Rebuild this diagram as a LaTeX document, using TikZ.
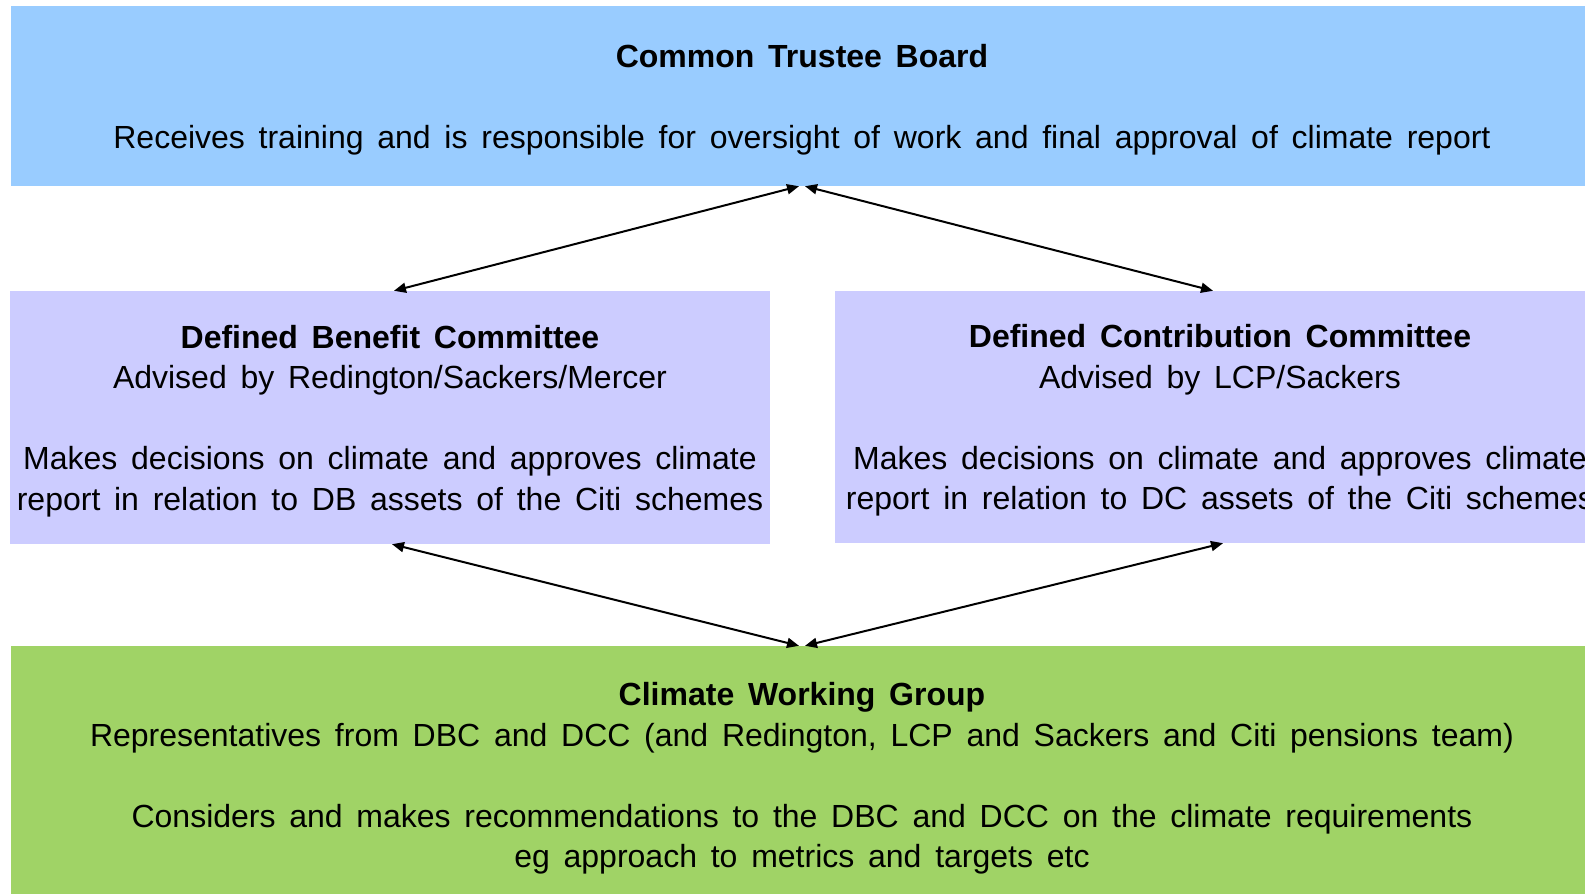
\documentclass[tikz,border=0pt]{standalone}
\usepackage{fontspec}
\setmainfont{Liberation Sans}
\usetikzlibrary{arrows.meta}
\definecolor{boardblue}{RGB}{153,204,255}
\definecolor{cttlilac}{RGB}{204,204,255}
\definecolor{cwggreen}{RGB}{160,211,102}
\newcommand\panelfont{\fontsize{32}{40.5}\selectfont\spaceskip=0.43em plus 0.05em\relax}
\tikzset{
  panel/.style={inner sep=0pt,align=center,text depth=0pt,font=\panelfont},
  link/.style={line width=2pt,
    {Triangle[length=12pt,width=10pt]}-{Triangle[length=12pt,width=10pt]}}
}
\begin{document}
\begin{tikzpicture}[x=1pt,y=-1pt]
            \useasboundingbox (0,0) rectangle (1585,894);
            \node[panel,fill=boardblue,minimum width=1582pt,minimum height=180pt] (board) at (802,96)
              {\textbf{Common Trustee Board}\\[40.5pt]
               Receives training and is responsible for oversight of work and final approval of climate report};
            \node[panel,fill=cttlilac,minimum width=760pt,minimum height=253pt] (dbc) at (390,417.5)
              {\textbf{Defined Benefit Committee}\\
               Advised by Redington/Sackers/Mercer\\[40.5pt]
               Makes decisions on climate and approves climate\\
               report in relation to DB assets of the Citi schemes};
            \node[panel,fill=cttlilac,minimum width=770pt,minimum height=252pt] (dcc) at (1220,417)
              {\textbf{Defined Contribution Committee}\\
               Advised by LCP/Sackers\\[40.5pt]
               Makes decisions on climate and approves climate\\
               report in relation to DC assets of the Citi schemes};
            \node[panel,fill=cwggreen,minimum width=1582pt,minimum height=258pt] (cwg) at (802,775)
              {\textbf{Climate Working Group}\\
               Representatives from DBC and DCC (and Redington, LCP and Sackers and Citi pensions team)\\[40.5pt]
               Considers and makes recommendations to the DBC and DCC on the climate requirements\\
               eg approach to metrics and targets etc};
            \draw[link] ([xshift=-3pt]board.south) -- ([xshift=4pt]dbc.north);
            \draw[link] ([xshift=3pt]board.south) -- ([xshift=-7pt]dcc.north);
            \draw[link] ([xshift=2pt]dbc.south) -- ([xshift=-3pt]cwg.north);
            \draw[link] ([xshift=3pt]dcc.south) -- ([xshift=3pt]cwg.north);
\end{tikzpicture}
\end{document}
